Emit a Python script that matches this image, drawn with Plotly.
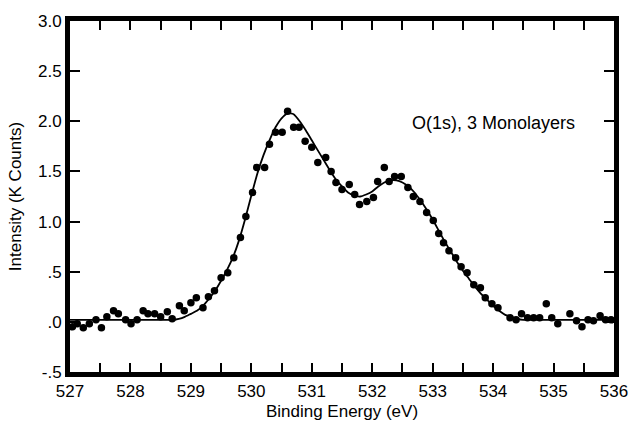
import plotly.graph_objects as go

# Measured data points (binding energy eV, intensity K counts)
pts_x = [527.04, 527.12, 527.22, 527.32, 527.43, 527.52, 527.61, 527.72, 527.80, 527.92,
         528.01, 528.11, 528.21, 528.29, 528.40, 528.50, 528.61, 528.69, 528.81, 528.89,
         529.00, 529.09, 529.20, 529.29, 529.39, 529.50, 529.61, 529.71, 529.82, 529.91,
         530.02, 530.09, 530.22, 530.30, 530.40, 530.51, 530.60, 530.70, 530.79, 530.89,
         531.00, 531.10, 531.23, 531.32, 531.40, 531.50, 531.62, 531.71, 531.79, 531.91,
         532.02, 532.09, 532.20, 532.28, 532.37, 532.48, 532.59, 532.68, 532.79, 532.90,
         533.01, 533.10, 533.18, 533.27, 533.38, 533.47, 533.57, 533.68, 533.79, 533.87,
         533.98, 534.08, 534.28, 534.38, 534.47, 534.57, 534.67, 534.77, 534.88, 534.97,
         535.07, 535.27, 535.38, 535.47, 535.57, 535.66, 535.77, 535.86, 535.95]
pts_y = [-0.05, -0.02, -0.06, -0.02, 0.02, -0.06, 0.05, 0.11, 0.08, 0.02,
         -0.02, 0.02, 0.11, 0.08, 0.08, 0.05, 0.10, 0.03, 0.16, 0.11,
         0.19, 0.24, 0.14, 0.25, 0.31, 0.44, 0.49, 0.64, 0.84, 1.05,
         1.29, 1.54, 1.54, 1.77, 1.89, 1.89, 2.10, 1.94, 1.94, 1.80,
         1.74, 1.59, 1.64, 1.50, 1.39, 1.32, 1.37, 1.27, 1.17, 1.20,
         1.24, 1.40, 1.54, 1.40, 1.45, 1.45, 1.34, 1.25, 1.20, 1.09,
         1.01, 0.88, 0.79, 0.71, 0.64, 0.55, 0.49, 0.37, 0.34, 0.24,
         0.18, 0.14, 0.04, 0.02, 0.08, 0.04, 0.04, 0.04, 0.18, 0.04,
         -0.02, 0.08, 0.01, -0.05, 0.02, 0.01, 0.06, 0.02, 0.02]

# Fitted curve
fit_x = [527.0, 527.5, 528.0, 528.5, 528.7, 528.8, 528.9, 529.0, 529.1, 529.2, 529.3, 529.4,
         529.5, 529.6, 529.7, 529.8, 529.9, 530.0, 530.1, 530.2, 530.3, 530.4, 530.5,
         530.6, 530.7, 530.8, 530.9, 531.0, 531.1, 531.2, 531.3, 531.4, 531.5, 531.6,
         531.7, 531.8, 531.9, 532.0, 532.1, 532.2, 532.3, 532.4, 532.5, 532.6, 532.7,
         532.8, 532.9, 533.0, 533.1, 533.2, 533.3, 533.4, 533.5, 533.6, 533.7, 533.8,
         533.9, 534.0, 534.1, 534.2, 534.3, 534.4, 534.5, 534.7, 535.0, 535.5, 536.0]
fit_y = [0.02, 0.02, 0.02, 0.02, 0.02, 0.03, 0.05, 0.08, 0.11, 0.16, 0.23, 0.31,
         0.41, 0.52, 0.65, 0.82, 1.03, 1.26, 1.48, 1.66, 1.81, 1.94, 2.03,
         2.08, 2.07, 2.00, 1.91, 1.81, 1.71, 1.61, 1.51, 1.42, 1.35, 1.29,
         1.26, 1.25, 1.27, 1.30, 1.35, 1.39, 1.41, 1.41, 1.39, 1.35, 1.29,
         1.21, 1.12, 1.02, 0.91, 0.80, 0.70, 0.60, 0.51, 0.43, 0.35, 0.28,
         0.22, 0.16, 0.11, 0.07, 0.05, 0.03, 0.02, 0.02, 0.02, 0.02, 0.02]

x_ticks = [527 + 0.5 * i for i in range(19)]
x_labels = [str(int(v)) if v == int(v) else "" for v in x_ticks]
y_ticks = [-0.5, 0.0, 0.5, 1.0, 1.5, 2.0, 2.5, 3.0]
y_labels = ["-.5", ".0", ".5", "1.0", "1.5", "2.0", "2.5", "3.0"]

font = "Liberation Sans, Arial, Helvetica, sans-serif"

fig = go.Figure()
fig.add_trace(go.Scatter(x=fit_x, y=fit_y, mode="lines",
                         line=dict(color="black", width=1.8, shape="spline", smoothing=0.5),
                         showlegend=False, hoverinfo="skip"))
fig.add_trace(go.Scatter(x=pts_x, y=pts_y, mode="markers", marker=dict(color="black", size=7.5),
                         showlegend=False))

fig.add_annotation(x=534.0, y=1.98, text="O(1s), 3 Monolayers", showarrow=False,
                   font=dict(family=font, size=18, color="black"))

fig.update_layout(
    width=640, height=431,
    margin=dict(l=69, r=15, t=13, b=58),
    paper_bgcolor="white", plot_bgcolor="white",
    font=dict(family=font, color="black"),
    xaxis=dict(range=[527, 536], tickvals=x_ticks, ticktext=x_labels,
               ticks="inside", ticklen=9, tickwidth=1.5, tickcolor="black",
               showline=True, linewidth=5, linecolor="black", mirror="ticks",
               showgrid=False, zeroline=False,
               tickfont=dict(size=17, family=font),
               title=dict(text="Binding Energy (eV)", font=dict(size=17, family=font), standoff=6)),
    yaxis=dict(range=[-0.5, 3.0], tickvals=y_ticks, ticktext=y_labels,
               ticks="inside", ticklen=10, tickwidth=1.5, tickcolor="black",
               showline=True, linewidth=5, linecolor="black", mirror="ticks",
               showgrid=False, zeroline=False,
               tickfont=dict(size=17, family=font),
               title=dict(text="Intensity (K Counts)", font=dict(size=17, family=font), standoff=14)),
)

fig.write_html("out.html")
